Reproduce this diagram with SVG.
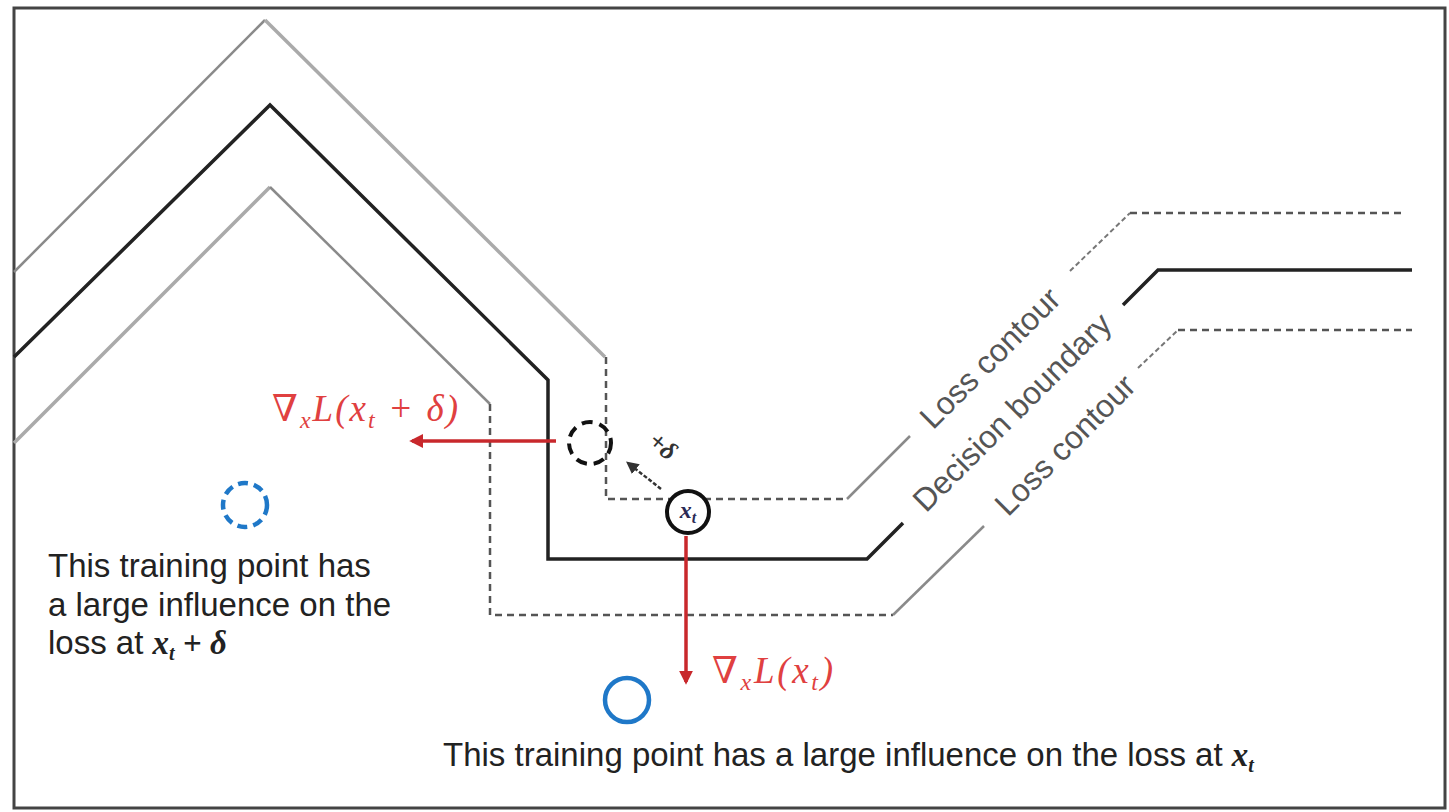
<svg xmlns="http://www.w3.org/2000/svg" width="1449" height="812" viewBox="0 0 1449 812">
<defs>
<style>
.frame{fill:#fff;stroke:#444;stroke-width:3}
.contour{fill:none;stroke:#8a8a8a;stroke-width:2.5}
.contourL{fill:none;stroke:#aaa;stroke-width:3.5}
.dash{fill:none;stroke:#555;stroke-width:2.5;stroke-dasharray:7,5}
.fdash{fill:none;stroke:#777;stroke-width:2;stroke-dasharray:5,3}
.db{fill:none;stroke:#222;stroke-width:3.5}
.lbl{font-family:"Liberation Sans",Arial,sans-serif;font-size:32px;fill:#555}
.txt{font-family:"Liberation Sans",Arial,sans-serif;font-size:33px;fill:#222}
.math{font-family:"Liberation Serif","DejaVu Serif",serif;font-style:italic;font-weight:bold}
.red{font-family:"Liberation Serif","DejaVu Serif",serif;font-style:italic;font-size:37px;fill:#e04040}
.redline{stroke:#c8282c;stroke-width:3.5;fill:none}
.blue{fill:none;stroke:#1f78c8;stroke-width:4.5}
</style>
<marker id="ahRed" viewBox="0 0 10 10" refX="8" refY="5" markerWidth="4" markerHeight="4" orient="auto">
<path d="M0,0 L10,5 L0,10 z" fill="#c8282c"/>
</marker>
<marker id="ahBlk" viewBox="0 0 10 10" refX="8" refY="5" markerWidth="5" markerHeight="5" orient="auto">
<path d="M0,0 L10,5 L0,10 z" fill="#333"/>
</marker>
</defs>
<rect class="frame" x="14" y="8" width="1431" height="800"/>

<g id="upper-loss-contour">
<polyline class="contour" points="14,272 265,20"/>
<polyline class="contourL" points="265,20 605,357"/>
<polyline class="dash" points="606,357 606,499 847,499"/>
<polyline class="contour" points="847,499 910,436"/>
<polyline class="fdash" points="1070,271 1130,213"/>
<polyline class="dash" points="1130,213 1405,213"/>
<text class="lbl" transform="translate(990,358) rotate(-45)" text-anchor="middle" dominant-baseline="central">Loss contour</text>
</g>

<g id="decision-boundary">
<polyline class="db" points="14,357 270,105 548,380 548,559 867,559 903,523"/>
<polyline class="db" points="1123,305 1158,270 1412,270"/>
<text class="lbl" transform="translate(1012,412) rotate(-45)" text-anchor="middle" dominant-baseline="central">Decision boundary</text>
</g>

<g id="lower-loss-contour">
<polyline class="contourL" points="14,443 270,187"/>
<polyline class="contour" points="270,187 490,404"/>
<polyline class="dash" points="490,404 490,615 893,615"/>
<polyline class="contour" points="893,615 984,526"/>
<polyline class="fdash" points="1138,368 1178,330"/>
<polyline class="dash" points="1178,330 1412,330"/>
<text class="lbl" transform="translate(1065,445) rotate(-45)" text-anchor="middle" dominant-baseline="central">Loss contour</text>
</g>

<g id="connectors">
<line class="redline" x1="556" y1="441" x2="412" y2="441" marker-end="url(#ahRed)"/>
<line class="redline" x1="686" y1="536" x2="686" y2="682" marker-end="url(#ahRed)"/>
<line x1="661" y1="489" x2="628" y2="463" stroke="#333" stroke-width="2.5" stroke-dasharray="4,2" marker-end="url(#ahBlk)"/>
</g>

<g id="perturbed-point">
<circle cx="590" cy="443" r="21" fill="none" stroke="#111" stroke-width="4" stroke-dasharray="11,7"/>
<text transform="translate(663,446) rotate(40)" text-anchor="middle" dominant-baseline="central" font-family="Liberation Serif,DejaVu Serif,serif" font-style="italic" font-weight="bold" font-size="26" fill="#333">+δ</text>
</g>

<g id="test-point">
<circle cx="688" cy="512" r="21" fill="#fff" stroke="#111" stroke-width="4"/>
<text x="688" y="518" text-anchor="middle" font-family="Liberation Serif,DejaVu Serif,serif" font-style="italic" font-weight="bold" font-size="24" fill="#2a2a55">x<tspan font-size="16" dy="5">t</tspan></text>
</g>

<g id="grad-label-perturbed">
<text class="red" x="272" y="421" textLength="186" lengthAdjust="spacing">∇<tspan font-size="24" dy="7">x</tspan><tspan dy="-7">L(x</tspan><tspan font-size="24" dy="7">t</tspan><tspan dy="-7"> + δ)</tspan></text>
</g>

<g id="grad-label-test">
<text class="red" x="712" y="683" textLength="121" lengthAdjust="spacing">∇<tspan font-size="24" dy="7">x</tspan><tspan dy="-7">L(x</tspan><tspan font-size="24" dy="7">t</tspan><tspan dy="-7">)</tspan></text>
</g>

<g id="training-point-1">
<circle class="blue" cx="245" cy="505" r="22" stroke-dasharray="10,6"/>
<text class="txt" x="48" y="577">This training point has</text>
<text class="txt" x="48" y="616">a large influence on the</text>
<text class="txt" x="48" y="654">loss at <tspan class="math">x<tspan font-size="20" dy="6">t</tspan><tspan dy="-6"> + δ</tspan></tspan></text>
</g>

<g id="training-point-2">
<circle class="blue" cx="627" cy="700" r="22"/>
<text class="txt" x="443" y="766">This training point has a large influence on the loss at <tspan class="math">x<tspan font-size="20" dy="6">t</tspan></tspan></text>
</g>
</svg>
